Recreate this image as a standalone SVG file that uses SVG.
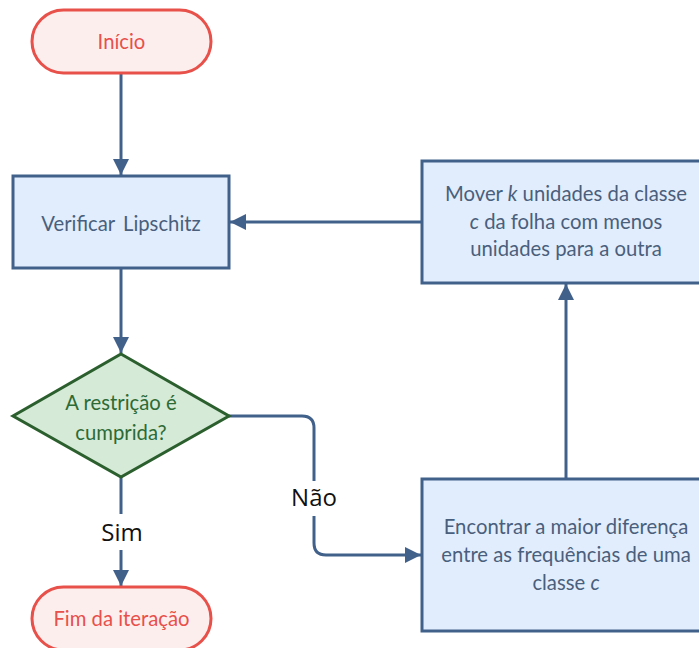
<svg xmlns="http://www.w3.org/2000/svg" width="699" height="648" viewBox="0 0 699 648">
<style>
.t{font-family:Lato,"Open Sans","Liberation Sans",sans-serif;font-size:20.3px;text-anchor:middle}
.term rect{fill:#fdeeee;stroke:#e8504a;stroke-width:3}
.term text{fill:#e8504a}
.proc rect{fill:#e1edfc;stroke:#41608a;stroke-width:3}
.proc text{fill:#4a5f7c}
.dec polygon{fill:#d5ead7;stroke:#2c5f2e;stroke-width:3}
.dec text{fill:#2e6a35}
.c{fill:none;stroke:#41608a;stroke-width:3}
.lbl{font-family:"Open Sans","Liberation Sans",sans-serif;font-size:24px;text-anchor:middle;fill:#111}
</style>
<defs>
<marker id="a" viewBox="0 0 16 16" refX="16" refY="8" markerWidth="16" markerHeight="16" markerUnits="userSpaceOnUse" orient="auto">
<path d="M0,0 L16,8 L0,16 z" fill="#41608a"/>
</marker>
</defs>
<g id="connectors">
<path class="c" d="M121,73 V175" marker-end="url(#a)"/>
<path class="c" d="M121,268 V353" marker-end="url(#a)"/>
<path class="c" d="M229,416 H302 Q314,416 314,428 V481 M314,516 V543 Q314,555 326,555 H421" marker-end="url(#a)"/>
<path class="c" d="M121,477 V514 M121,550 V586" marker-end="url(#a)"/>
<path class="c" d="M566,479 V284" marker-end="url(#a)"/>
<path class="c" d="M422,222 H230" marker-end="url(#a)"/>
<text class="lbl" x="314" y="506">Não</text>
<text class="lbl" x="122" y="541">Sim</text>
</g>
<g id="inicio" class="term">
<rect x="32" y="10" width="179" height="63" rx="31.5"/>
<text class="t" x="121.5" y="49">Início</text>
</g>
<g id="verificar" class="proc">
<rect x="13" y="176" width="216" height="92"/>
<text class="t" x="121" y="231" word-spacing="3">Verificar Lipschitz</text>
</g>
<g id="decisao" class="dec">
<polygon points="121,354 229,416 121,477 13,416"/>
<text class="t" x="121" y="410">A restrição é</text>
<text class="t" x="121" y="440">cumprida?</text>
</g>
<g id="fim" class="term">
<rect x="32" y="587" width="179" height="63" rx="31.5"/>
<text class="t" x="121.5" y="626">Fim da iteração</text>
</g>
<g id="mover" class="proc">
<rect x="422" y="161" width="290" height="122"/>
<text class="t" x="566" y="201">Mover <tspan font-style="italic">k</tspan> unidades da classe</text>
<text class="t" x="566" y="229"><tspan font-style="italic">c</tspan> da folha com menos</text>
<text class="t" x="566" y="256">unidades para a outra</text>
</g>
<g id="encontrar" class="proc">
<rect x="422" y="479" width="290" height="152"/>
<text class="t" x="566" y="534">Encontrar a maior diferença</text>
<text class="t" x="566" y="562">entre as frequências de uma</text>
<text class="t" x="566" y="590">classe <tspan font-style="italic">c</tspan></text>
</g>
</svg>
